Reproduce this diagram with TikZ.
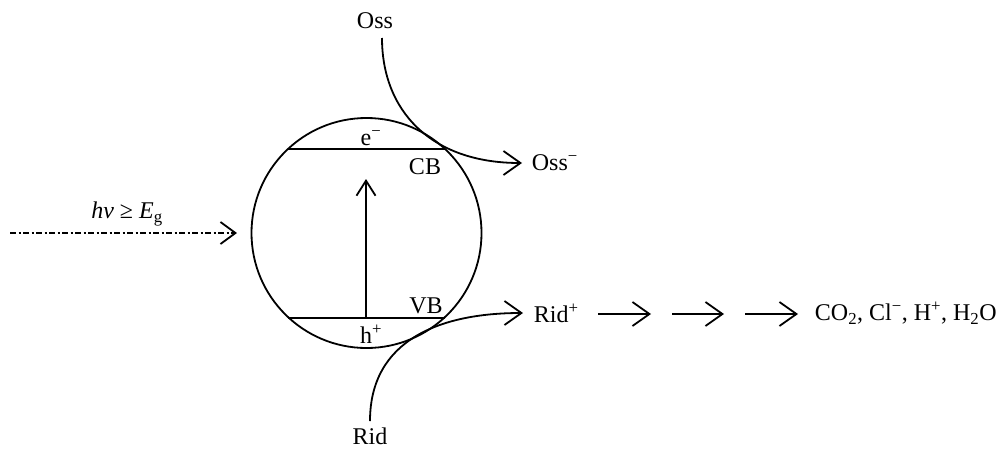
\documentclass[tikz,border=0pt]{standalone}
\usepackage{fontspec}
\setmainfont{Liberation Serif}
\usetikzlibrary{arrows.meta}
\begin{document}
\begin{tikzpicture}[x=1pt,y=-1pt,line width=1.8pt,
  lbl/.style={font=\fontsize{24}{26}\selectfont,inner sep=0pt},
  barb/.style={-{Straight Barb[length=17pt,width=24pt,line width=1.8pt]}},
  smallbarb/.style={-{Straight Barb[length=15pt,width=19pt,line width=1.8pt]}},
  dashdot/.style={line width=1.3pt,dash pattern=on 6pt off 2.5pt on 2pt off 2.5pt}]
\useasboundingbox (0,0) rectangle (1003,450);
% semiconductor particle
\node[circle,draw,minimum size=230pt,inner sep=0pt] (sc) at (366.5,233) {};
\coordinate (cbL) at (288,149); \coordinate (cbR) at (445,149);
\coordinate (vbL) at (288,318); \coordinate (vbR) at (445,318);
\draw (cbL) -- (cbR);
\draw (vbL) -- (vbR);
\coordinate (exS) at (366,318); \coordinate (exE) at (366,179);
\draw[smallbarb] (exS) -- (exE);
% labels inside
\node[lbl] (el) at (371,138) {e\textsuperscript{−}};
\node[lbl] (cb) at (425,167) {CB};
\node[lbl] (vb) at (426,306) {VB};
\node[lbl] (ho) at (371,334) {h\textsuperscript{+}};
% light
\coordinate (hvS) at (10,233); \coordinate (hvE) at (237,233);
\draw[dashdot,-{Straight Barb[length=15pt,width=22pt,line width=1.8pt]}] (hvS) -- (hvE);
\node[lbl] (hv) at (127,214) {\textit{hv} ≥ \textit{E}\textsubscript{g}};
% oxidant
\node[lbl] (oss) at (375,21) {Oss};
\node[lbl,anchor=west] (ossm) at (531,163) {Oss\textsuperscript{−}};
\coordinate (ossS) at (382,38); \coordinate (ossE) at (522,163);
\draw[barb] (ossS) .. controls (382,110) and (430,163) .. (ossE);
% reductant
\node[lbl] (rid) at (370,436) {Rid};
\node[lbl,anchor=west] (ridp) at (533,313) {Rid\textsuperscript{+}};
\coordinate (ridS) at (370,421); \coordinate (ridE) at (523,313);
\draw[barb] (ridS) .. controls (370,340) and (440,313) .. (ridE);
% chain
\coordinate (a1) at (598,314); \coordinate (b1) at (651,314);
\coordinate (a2) at (672,314); \coordinate (b2) at (724,314);
\coordinate (a3) at (745,314); \coordinate (b3) at (798,314);
\draw[barb] (a1) -- (b1);
\draw[barb] (a2) -- (b2);
\draw[barb] (a3) -- (b3);
\node[lbl,anchor=west] (prod) at (814,313) {CO\textsubscript{2}, Cl\textsuperscript{−}, H\textsuperscript{+}, H\textsubscript{2}O};
\end{tikzpicture}
\end{document}
